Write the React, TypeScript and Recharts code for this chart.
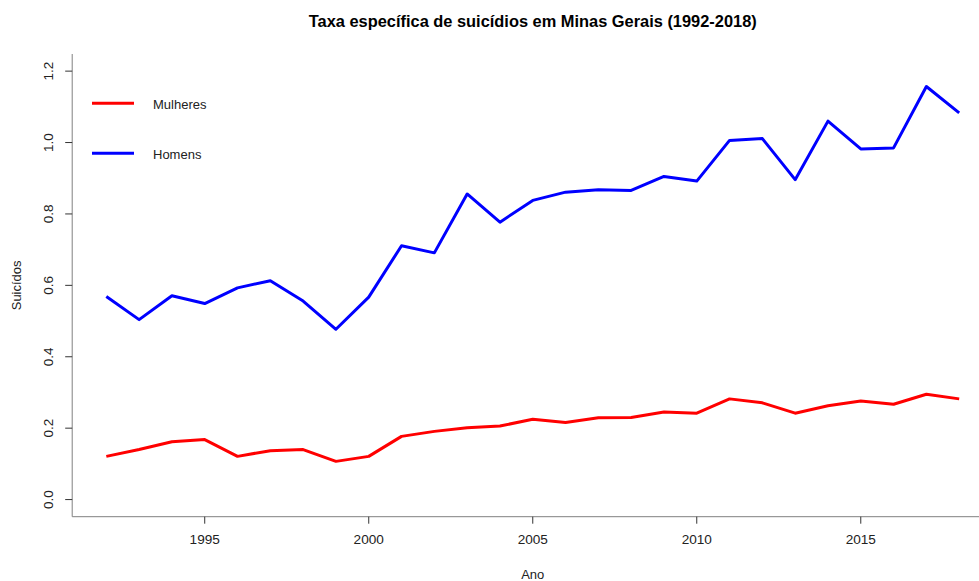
import React from "react";
import { LineChart, Line, XAxis, YAxis } from "recharts";

const years = [1992, 1993, 1994, 1995, 1996, 1997, 1998, 1999, 2000, 2001, 2002, 2003, 2004, 2005, 2006, 2007, 2008, 2009, 2010, 2011, 2012, 2013, 2014, 2015, 2016, 2017, 2018];
const mulheres = [0.121, 0.14, 0.162, 0.168, 0.121, 0.137, 0.14, 0.107, 0.121, 0.177, 0.191, 0.201, 0.206, 0.225, 0.216, 0.229, 0.23, 0.245, 0.242, 0.282, 0.271, 0.242, 0.263, 0.276, 0.267, 0.295, 0.282];
const homens = [0.569, 0.504, 0.571, 0.549, 0.593, 0.613, 0.556, 0.477, 0.567, 0.711, 0.691, 0.856, 0.777, 0.838, 0.861, 0.868, 0.866, 0.905, 0.892, 1.006, 1.011, 0.896, 1.06, 0.982, 0.985, 1.157, 1.083];
const xTicks = [1995, 2000, 2005, 2010, 2015];
const yTicks = [0, 0.2, 0.4, 0.6, 0.8, 1.0, 1.2];
const seriesNames = ["Mulheres", "Homens"];
const seriesColors = ["#ff0000", "#0000ff"];

const data = years.map((y, i) => ({ ano: y, Mulheres: mulheres[i], Homens: homens[i] }));

const FONT = "'Liberation Sans', Arial, sans-serif";

const YTick = (props: any) => {
  const { x, y, payload } = props;
  return (
    <text
      x={x}
      y={y}
      transform={`rotate(-90, ${x}, ${y})`}
      textAnchor="middle"
      fontFamily={FONT}
      fontSize={13.5}
      fill="#222"
    >
      {Number(payload.value).toFixed(1)}
    </text>
  );
};

export default function App() {
  const plotLeft = 72.2;
  const plotRight = 993.3;
  const plotTop = 54;
  const plotBottom = 516.7;
  const W = 1000;
  const H = 581;
  return (
    <div style={{ position: "absolute", left: 0, top: 0, width: 979, height: 581, overflow: "hidden", background: "#fff" }}>
      <LineChart
        width={W}
        height={H}
        data={data}
        margin={{ top: plotTop, right: W - plotRight, bottom: 0, left: 0 }}
        style={{ fontFamily: FONT }}
      >
        <XAxis
          xAxisId="top"
          orientation="top"
          dataKey="ano"
          type="number"
          domain={[1990.96, 2019.04]}
          height={0}
          tick={false}
          tickLine={false}
          axisLine={{ stroke: "#808080", strokeWidth: 1 }}
        />
        <XAxis
          dataKey="ano"
          type="number"
          domain={[1990.96, 2019.04]}
          ticks={xTicks}
          allowDataOverflow
          height={H - plotBottom}
          tickSize={7}
          tickMargin={11}
          tickLine={{ stroke: "#333" }}
          axisLine={{ stroke: "#808080", strokeWidth: 1 }}
          tick={{ fontSize: 13.6, fill: "#222", fontFamily: FONT }}
          label={{ value: "Ano", position: "insideBottom", offset: 2, fontSize: 13, fill: "#222", fontFamily: FONT }}
        />
        <YAxis
          type="number"
          domain={[-0.048, 1.248]}
          ticks={yTicks}
          allowDataOverflow
          width={plotLeft}
          tickSize={7}
          tickMargin={12}
          tickLine={{ stroke: "#333" }}
          axisLine={{ stroke: "#808080", strokeWidth: 1 }}
          tick={<YTick />}
          label={{
            content: (p: any) => {
              const vb = p.viewBox || {};
              const cx = 21.5;
              const cy = (vb.y ?? plotTop) + (vb.height ?? plotBottom - plotTop) / 2;
              return (
                <text x={cx} y={cy} transform={`rotate(-90, ${cx}, ${cy})`} textAnchor="middle" fontSize={13} fill="#222" fontFamily={FONT}>
                  Suicídos
                </text>
              );
            },
          }}
        />
        <Line dataKey="Mulheres" stroke={seriesColors[0]} strokeWidth={3} dot={false} isAnimationActive={false} strokeLinejoin="round" />
        <Line dataKey="Homens" stroke={seriesColors[1]} strokeWidth={3} dot={false} isAnimationActive={false} strokeLinejoin="round" />
        <text x={(plotLeft + plotRight) / 2} y={27.3} textAnchor="middle" fontWeight="bold" fontSize={16.4} fill="#000" fontFamily={FONT}>
          Taxa específica de suicídios em Minas Gerais (1992-2018)
        </text>
        {seriesNames.map((n, i) => (
          <g key={n}>
            <line x1={92} x2={134} y1={103.3 + i * 50} y2={103.3 + i * 50} stroke={seriesColors[i]} strokeWidth={3} />
            <text x={153} y={108.5 + i * 50} fontSize={13} fill="#222" fontFamily={FONT}>
              {n}
            </text>
          </g>
        ))}
      </LineChart>
    </div>
  );
}
